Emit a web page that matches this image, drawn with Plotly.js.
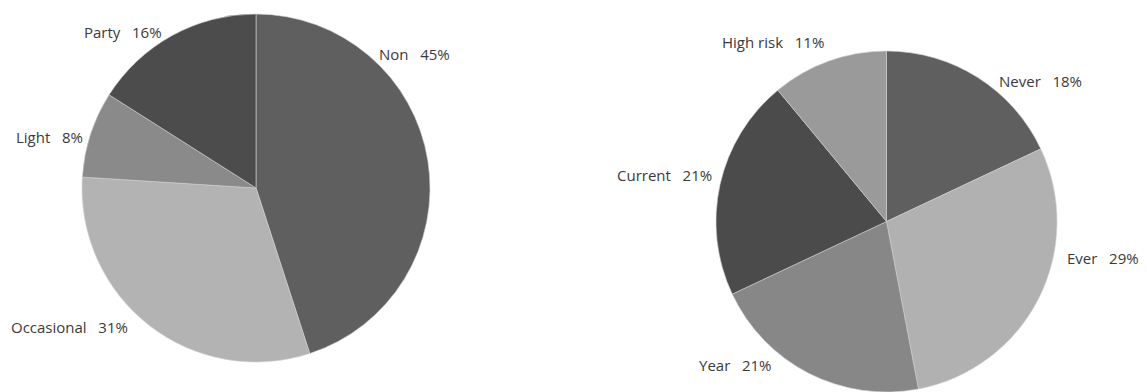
<!DOCTYPE html>
<html>
<head>
<meta charset="utf-8">
<script src="https://cdn.plot.ly/plotly-3.0.1.min.js"></script>
<style>
html,body{margin:0;padding:0;background:#fff;}
#chart{width:1147px;height:392px;}
</style>
</head>
<body>
<div id="chart"></div>
<script>
// Data
var drinkCategories = ["Non", "Occasional", "Light", "Party"];
var drinkValues = [45, 31, 8, 16];
var smokeCategories = ["Never", "Ever", "Year", "Current", "High risk"];
var smokeValues = [18, 29, 21, 21, 11];

// Styles
var drinkColors = ["#5f5f5f", "#b3b3b3", "#8a8a8a", "#4c4c4c"];
var smokeColors = ["#5f5f5f", "#b1b1b1", "#878787", "#4b4b4b", "#9a9a9a"];

var W = 1147, H = 392;
function px(x){ return x / W; }
function py(y){ return 1 - y / H; }

// Label anchor positions (left edge x, middle y) in pixels, layout only
var drinkLabelPos = [[377, 54], [9, 327], [14, 137], [82, 32]];
var smokeLabelPos = [[997, 81], [1065, 258], [697, 365], [615, 175], [720, 42]];

var traces = [
  {
    type: "pie",
    labels: drinkCategories,
    values: drinkValues,
    sort: false,
    direction: "clockwise",
    rotation: 0,
    textinfo: "none",
    hoverinfo: "label+percent",
    marker: {colors: drinkColors, line: {color: "#d0d0d0", width: 0.6}},
    domain: {x: [px(82), px(430)], y: [py(362), py(14)]},
    showlegend: false
  },
  {
    type: "pie",
    labels: smokeCategories,
    values: smokeValues,
    sort: false,
    direction: "clockwise",
    rotation: 0,
    textinfo: "none",
    hoverinfo: "label+percent",
    marker: {colors: smokeColors, line: {color: "#d0d0d0", width: 0.6}},
    domain: {x: [px(716), px(1057)], y: [0, py(51)]},
    showlegend: false
  }
];

function makeLabels(cats, vals, pos) {
  var total = vals.reduce(function(a, b){ return a + b; }, 0);
  return cats.map(function(c, i){
    var pct = Math.round(vals[i] / total * 100);
    return {
      xref: "paper", yref: "paper",
      x: px(pos[i][0]), y: py(pos[i][1]),
      xanchor: "left", yanchor: "middle",
      showarrow: false,
      text: c + "&nbsp;&nbsp;&nbsp;" + pct + "%",
      font: {family: "'Open Sans', 'Noto Sans', sans-serif", size: 15, color: "#3a3a3a"}
    };
  });
}

var annotations = makeLabels(drinkCategories, drinkValues, drinkLabelPos)
  .concat(makeLabels(smokeCategories, smokeValues, smokeLabelPos));

var layout = {
  width: W, height: H,
  margin: {l: 0, r: 0, t: 0, b: 0, pad: 0},
  paper_bgcolor: "#ffffff",
  plot_bgcolor: "#ffffff",
  annotations: annotations,
  showlegend: false
};

Plotly.newPlot("chart", traces, layout, {displayModeBar: false, staticPlot: true});
</script>
</body>
</html>
